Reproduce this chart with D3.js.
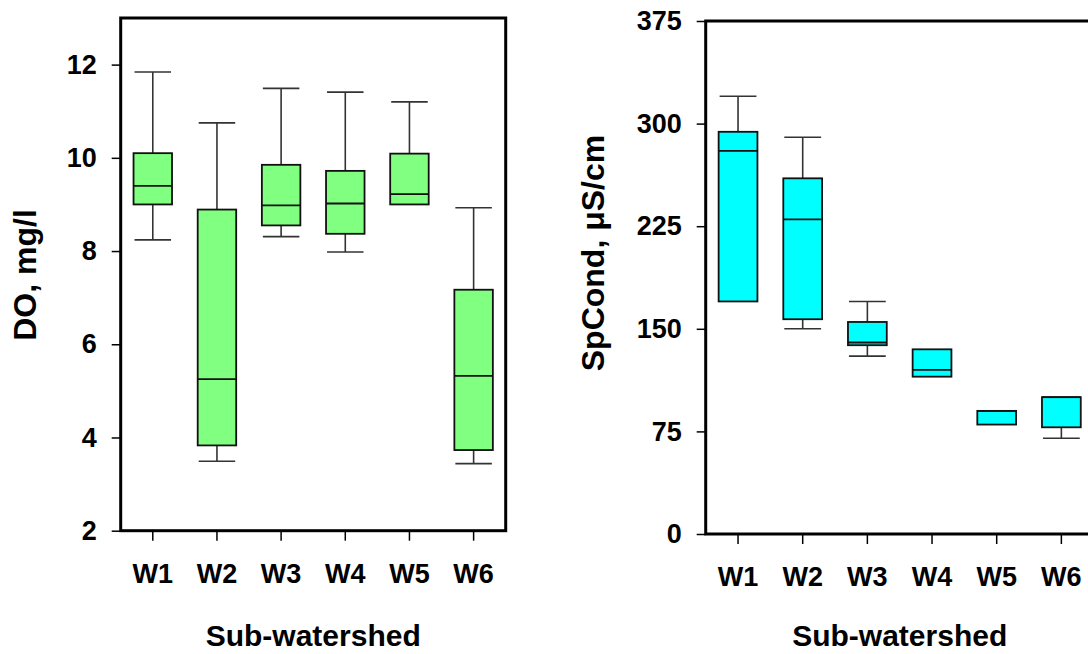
<!DOCTYPE html>
<html>
<head>
<meta charset="utf-8">
<script src="https://cdn.jsdelivr.net/npm/d3@7"></script>
<style>
  html, body { margin: 0; padding: 0; background: #fff; }
  svg { display: block; font-family: "Liberation Sans", Arial, sans-serif; font-weight: bold; }
  .tick text { font-size: 27px; fill: #000; }
  .tick line { stroke: #000; stroke-width: 1.5; }
  .ttl { font-size: 30px; fill: #000; }
  .ttl.y { font-size: 32px; }
</style>
</head>
<body>
<div id="chart"></div>
<script>
/* 箱线图数据 */
const categories = ['W1', 'W2', 'W3', 'W4', 'W5', 'W6'];

const doMin = [8.24, 3.49, 8.31, 7.98, 9.00, 3.44];
const doQ1  = [9.00, 3.83, 8.55, 8.37, 9.00, 3.73];
const doMed = [9.40, 5.25, 8.98, 9.02, 9.22, 5.32];
const doQ3  = [10.10, 8.89, 9.85, 9.72, 10.09, 7.17];
const doMax = [11.84, 10.75, 11.49, 11.41, 11.20, 8.93];
const doTicks = [2, 4, 6, 8, 10, 12];

const spMin = [170, 150, 130, 115, 80, 70];
const spQ1  = [170, 157, 138, 115, 80, 78];
const spMed = [280, 230, 140, 120, 90, 100];
const spQ3  = [294, 260, 155, 135, 90, 100];
const spMax = [320, 290, 170, 135, 90, 100];
const spTicks = [0, 75, 150, 225, 300, 375];

const W = 1088, H = 654;
const svg = d3.select('#chart').append('svg').attr('width', W).attr('height', H);

function panel(o) {
  const x = d3.scaleBand().domain(categories).range([o.x0, o.x1]);
  const y = d3.scaleLinear().domain(o.domain).range([o.y1, o.y0]);
  const rows = categories.map((c, i) => ({c, min: o.min[i], q1: o.q1[i], med: o.med[i], q3: o.q3[i], max: o.max[i]}));
  const g = svg.append('g');
  const bw = x.bandwidth() * 0.6;
  const cx = d => x(d.c) + x.bandwidth() / 2;

  // axes
  g.append('g').attr('transform', `translate(${o.x0},0)`)
    .call(d3.axisLeft(y).tickValues(o.ticks).tickSize(9).tickPadding(15))
    .call(a => a.select('.domain').remove());
  g.append('g').attr('transform', `translate(0,${o.y1})`)
    .call(d3.axisBottom(x).tickSize(10).tickPadding(23))
    .call(a => a.select('.domain').remove());

  // whiskers
  const bx = g.append('g').selectAll('g').data(rows).join('g');
  bx.filter(d => d.max > d.q3).call(s => {
    s.append('line').attr('x1', cx).attr('x2', cx).attr('y1', d => y(d.q3)).attr('y2', d => y(d.max));
    s.append('line').attr('x1', d => cx(d) - bw / 2 + 1).attr('x2', d => cx(d) + bw / 2 - 1).attr('y1', d => y(d.max)).attr('y2', d => y(d.max));
  });
  bx.filter(d => d.min < d.q1).call(s => {
    s.append('line').attr('x1', cx).attr('x2', cx).attr('y1', d => y(d.q1)).attr('y2', d => y(d.min));
    s.append('line').attr('x1', d => cx(d) - bw / 2 + 1).attr('x2', d => cx(d) + bw / 2 - 1).attr('y1', d => y(d.min)).attr('y2', d => y(d.min));
  });
  bx.selectAll('line').attr('stroke', '#333').attr('stroke-width', 1.6);

  bx.append('rect')
    .attr('x', d => cx(d) - bw / 2).attr('width', bw)
    .attr('y', d => y(d.q3)).attr('height', d => y(d.q1) - y(d.q3))
    .attr('fill', o.fill).attr('stroke', '#111').attr('stroke-width', 1.8);
  bx.append('line')
    .attr('x1', d => cx(d) - bw / 2).attr('x2', d => cx(d) + bw / 2)
    .attr('y1', d => y(d.med)).attr('y2', d => y(d.med))
    .attr('stroke', '#111').attr('stroke-width', 1.8);

  // frame
  g.append('rect').attr('x', o.x0).attr('y', o.y0).attr('width', o.x1 - o.x0).attr('height', o.y1 - o.y0)
    .attr('fill', 'none').attr('stroke', '#000').attr('stroke-width', 3);

  // titles
  g.append('text').attr('class', 'ttl y').attr('text-anchor', 'middle')
    .attr('transform', `translate(${o.ytx},${o.yty}) rotate(-90)`).attr('dy', '0.35em').text(o.ytitle);
  g.append('text').attr('class', 'ttl').attr('text-anchor', 'middle')
    .attr('x', (o.x0 + o.x1) / 2).attr('y', o.xty).text('Sub-watershed');
}

panel({x0: 120.7, x1: 505.7, y0: 18, y1: 530.7, domain: [2, 13], ticks: doTicks,
  min: doMin, q1: doQ1, med: doMed, q3: doQ3, max: doMax, fill: '#80ff80',
  ytitle: 'DO, mg/l', ytx: 25, yty: 275, xty: 646});

panel({x0: 705.7, x1: 1093.7, y0: 21, y1: 534, domain: [0, 375], ticks: spTicks,
  min: spMin, q1: spQ1, med: spMed, q3: spQ3, max: spMax, fill: '#00ffff',
  ytitle: 'SpCond, μS/cm', ytx: 593, yty: 253, xty: 646});
</script>
</body>
</html>
